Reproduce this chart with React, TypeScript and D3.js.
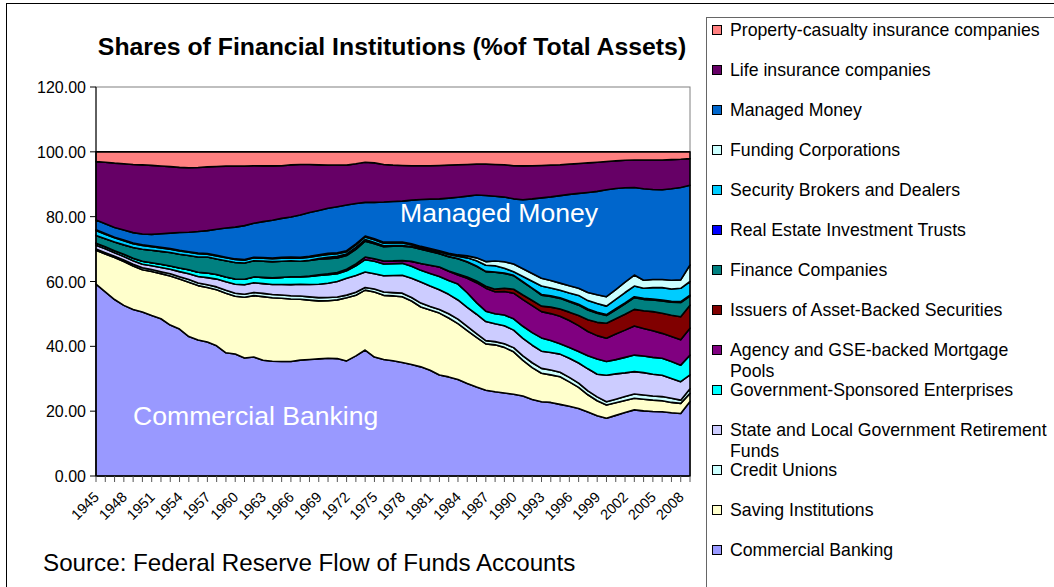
import React from "react";
import * as d3 from "d3";

// years 1945..2009, one point per year
const years = d3.range(1945, 2010);
const yearLabels = ["1945", "1948", "1951", "1954", "1957", "1960", "1963", "1966", "1969", "1972", "1975", "1978", "1981", "1984", "1987", "1990", "1993", "1996", "1999", "2002", "2005", "2008"];
const yTicks = [0, 20, 40, 60, 80, 100, 120];

// shares in % of total assets (bottom of the stack first)
const commercialBanking = [59.0, 56.8, 54.6, 53.0, 51.5, 50.5, 49.6, 48.8, 46.8, 45.5, 43.0, 41.8, 41.0, 40.0, 38.0, 37.6, 36.3, 36.8, 35.5, 35.2, 35.3, 35.2, 35.6, 35.9, 36.0, 36.3, 36.4, 35.5, 37.2, 38.9, 36.5, 35.7, 35.5, 35.0, 34.6, 33.7, 32.6, 31.1, 30.6, 29.8, 28.6, 27.6, 26.5, 26.0, 25.7, 25.2, 24.6, 23.6, 22.9, 22.7, 22.1, 21.5, 20.8, 19.7, 18.6, 17.8, 18.7, 19.6, 20.4, 20.1, 19.9, 19.8, 19.5, 19.3, 23.0];
const savingInstitutions = [10.4, 11.7, 13.0, 13.6, 13.5, 13.0, 13.6, 14.0, 15.2, 15.5, 16.8, 16.7, 16.7, 17.2, 18.4, 17.8, 18.7, 19.0, 19.5, 19.5, 19.5, 19.2, 18.7, 18.3, 17.8, 17.7, 18.2, 19.5, 18.8, 18.5, 20.0, 19.7, 20.0, 20.3, 19.7, 18.5, 18.6, 19.1, 18.2, 17.2, 16.4, 15.4, 14.3, 14.5, 14.1, 13.1, 10.9, 9.8, 8.8, 8.5, 8.5, 7.5, 6.5, 5.3, 4.6, 4.1, 3.9, 3.7, 3.6, 3.6, 3.5, 3.4, 3.2, 3.1, 2.5];
const creditUnions = [0.4, 0.4, 0.4, 0.5, 0.5, 0.6, 0.6, 0.6, 0.7, 0.7, 0.8, 0.8, 0.8, 0.9, 0.9, 0.9, 0.9, 1.0, 1.0, 1.0, 1.0, 1.0, 1.0, 1.0, 1.0, 1.0, 0.9, 0.8, 0.9, 0.8, 0.9, 1.0, 1.0, 1.1, 1.1, 1.2, 1.1, 1.1, 1.3, 1.4, 1.3, 1.2, 1.0, 1.0, 1.1, 1.3, 1.4, 1.5, 1.5, 1.5, 1.4, 1.4, 1.3, 1.2, 1.2, 1.0, 1.1, 1.2, 1.3, 1.3, 1.3, 1.3, 1.3, 1.0, 1.4];
const stateLocalRetirement = [1.2, 1.2, 1.1, 1.1, 1.1, 1.1, 1.2, 1.3, 1.4, 1.6, 1.8, 2.0, 2.2, 2.4, 2.6, 2.8, 2.9, 3.0, 3.0, 3.1, 3.2, 3.4, 3.6, 3.8, 4.1, 4.4, 4.8, 5.2, 5.2, 4.8, 4.7, 5.0, 5.3, 5.5, 6.0, 6.5, 6.3, 6.1, 6.0, 5.9, 5.9, 6.0, 5.9, 5.5, 5.6, 5.4, 5.4, 5.4, 5.3, 5.4, 5.6, 5.9, 6.2, 6.8, 7.0, 8.2, 7.8, 7.3, 6.9, 6.9, 6.7, 6.6, 6.1, 5.7, 4.3];
const gse = [0.6, 0.6, 0.6, 0.7, 0.8, 0.9, 0.9, 1.0, 1.0, 1.1, 1.2, 1.3, 1.4, 1.4, 1.5, 1.6, 1.7, 1.8, 1.9, 2.0, 2.2, 2.4, 2.3, 2.5, 2.7, 2.6, 2.4, 2.3, 3.0, 3.8, 3.8, 3.6, 3.6, 3.7, 3.7, 3.6, 3.9, 4.1, 4.3, 4.9, 4.5, 3.6, 3.2, 3.1, 3.3, 3.5, 3.7, 3.9, 4.1, 3.7, 3.2, 3.3, 3.5, 4.0, 4.7, 4.2, 4.4, 4.8, 5.1, 5.1, 5.2, 5.2, 5.2, 5.1, 6.1];
const mortgagePools = [0, 0, 0, 0, 0, 0, 0, 0, 0, 0, 0, 0, 0, 0, 0, 0, 0, 0, 0, 0, 0, 0, 0, 0.1, 0.2, 0.3, 0.4, 0.5, 0.6, 0.8, 0.8, 0.9, 0.9, 0.9, 1.5, 2.1, 2.5, 2.9, 2.8, 2.8, 4.5, 6.2, 7.1, 6.8, 7.3, 7.9, 8.2, 8.3, 8.1, 8.3, 8.5, 8.3, 8.0, 7.5, 7.2, 7.2, 7.9, 8.4, 9.0, 8.5, 8.2, 7.7, 7.7, 7.8, 8.3];
const assetBacked = [0, 0, 0, 0, 0, 0, 0, 0, 0, 0, 0, 0, 0, 0, 0, 0, 0, 0, 0, 0, 0, 0, 0, 0, 0, 0, 0, 0, 0, 0, 0, 0, 0, 0, 0, 0, 0, 0, 0.1, 0.3, 0.4, 0.5, 0.6, 0.8, 1.0, 1.2, 1.4, 1.6, 1.7, 2.0, 2.2, 2.6, 3.1, 3.6, 4.1, 4.6, 4.7, 4.9, 5.1, 5.5, 5.9, 6.2, 6.6, 7.1, 7.1];
const financeCompanies = [2.4, 2.5, 2.7, 2.9, 3.3, 3.7, 3.9, 4.0, 4.2, 4.3, 4.4, 4.7, 4.9, 4.8, 5.0, 5.1, 5.0, 5.0, 5.0, 5.0, 5.0, 4.9, 4.8, 4.8, 4.8, 4.7, 4.5, 4.2, 4.5, 4.9, 4.6, 4.4, 4.5, 4.4, 4.5, 4.4, 4.3, 4.1, 4.4, 4.7, 4.6, 4.6, 4.5, 5.2, 4.6, 4.2, 4.0, 3.7, 3.4, 3.3, 3.3, 3.2, 3.2, 3.0, 2.8, 2.4, 2.8, 3.2, 3.6, 3.5, 3.6, 3.8, 4.0, 4.4, 2.8];
const reits = [0, 0, 0, 0, 0, 0, 0, 0, 0, 0, 0, 0, 0, 0, 0, 0, 0, 0, 0, 0, 0, 0, 0, 0.1, 0.2, 0.4, 0.5, 0.5, 0.6, 0.5, 0.4, 0.3, 0.2, 0.2, 0.1, 0.1, 0.1, 0.1, 0.1, 0.1, 0.1, 0.1, 0.1, 0.1, 0.1, 0.1, 0.1, 0.1, 0.2, 0.2, 0.2, 0.2, 0.3, 0.3, 0.3, 0.3, 0.3, 0.3, 0.3, 0.3, 0.3, 0.3, 0.3, 0.3, 0.3];
const brokersDealers = [1.5, 1.4, 1.3, 1.3, 1.2, 1.2, 1.1, 1.1, 1.0, 1.0, 1.0, 1.0, 0.9, 0.9, 0.9, 0.9, 0.9, 0.9, 0.9, 0.9, 0.9, 0.9, 0.9, 0.9, 0.9, 0.9, 0.8, 0.7, 0.8, 0.8, 0.8, 0.8, 0.8, 0.8, 0.6, 0.5, 0.5, 0.5, 0.6, 0.7, 1.2, 1.6, 1.9, 1.9, 1.5, 1.1, 1.6, 2.1, 2.6, 2.4, 2.3, 2.5, 2.7, 2.6, 2.7, 2.6, 2.9, 3.2, 3.3, 3.1, 3.5, 3.8, 3.8, 4.1, 4.2];
const fundingCorps = [0.2, 0.2, 0.2, 0.2, 0.2, 0.2, 0.2, 0.2, 0.2, 0.2, 0.2, 0.2, 0.2, 0.2, 0.2, 0.2, 0.2, 0.2, 0.2, 0.2, 0.3, 0.3, 0.3, 0.3, 0.3, 0.3, 0.3, 0.3, 0.3, 0.3, 0.3, 0.3, 0.3, 0.3, 0.3, 0.3, 0.3, 0.3, 0.4, 0.4, 0.6, 0.9, 1.1, 1.5, 2.0, 2.4, 2.4, 2.4, 2.4, 2.3, 2.2, 2.2, 2.2, 2.5, 2.7, 2.9, 3.0, 3.2, 3.4, 2.5, 2.5, 2.5, 2.7, 2.6, 5.1];
const managedMoney = [3.0, 3.0, 3.0, 3.1, 3.2, 3.3, 3.6, 4.2, 4.8, 5.5, 6.0, 6.6, 7.0, 8.0, 9.0, 9.8, 10.4, 10.5, 11.0, 11.6, 12.0, 12.3, 13.0, 13.5, 13.6, 13.9, 14.3, 14.1, 12.5, 10.4, 11.2, 12.3, 12.5, 12.6, 13.5, 14.5, 15.2, 16.0, 17.0, 17.8, 18.5, 19.5, 20.4, 20.0, 20.0, 20.1, 21.2, 23.0, 24.8, 25.8, 27.0, 28.2, 29.2, 30.8, 31.9, 33.0, 31.2, 29.1, 27.0, 28.2, 27.8, 27.7, 28.2, 28.5, 24.6];
const lifeInsurance = [18.0, 19.0, 19.9, 20.6, 21.1, 21.3, 21.3, 21.0, 20.6, 20.2, 19.9, 19.7, 19.5, 19.3, 19.1, 18.8, 18.3, 17.8, 17.1, 16.7, 16.2, 16.0, 15.5, 14.8, 14.0, 13.3, 12.9, 12.3, 12.3, 12.4, 12.1, 11.5, 11.2, 11.0, 10.7, 10.4, 10.3, 10.3, 10.2, 10.0, 9.8, 9.6, 9.7, 9.8, 10.0, 10.2, 10.4, 10.2, 10.0, 9.8, 9.5, 9.3, 9.2, 9.1, 9.0, 8.7, 8.5, 8.5, 8.5, 8.9, 9.1, 9.2, 9.0, 8.7, 8.2];
const propertyCasualty = [3.0, 3.2, 3.5, 3.7, 3.9, 4.0, 4.2, 4.4, 4.6, 4.8, 4.9, 4.8, 4.6, 4.5, 4.4, 4.4, 4.4, 4.3, 4.3, 4.3, 4.3, 4.0, 3.9, 3.9, 4.0, 4.1, 4.1, 4.1, 3.7, 3.2, 3.4, 3.9, 4.1, 4.2, 4.3, 4.3, 4.3, 4.2, 4.1, 4.0, 3.9, 3.8, 3.8, 3.9, 4.0, 4.3, 4.3, 4.3, 4.2, 4.1, 4.0, 3.8, 3.6, 3.4, 3.2, 3.0, 2.8, 2.6, 2.5, 2.5, 2.5, 2.5, 2.4, 2.3, 2.1];

const series = [
  { key: "cb", name: "Commercial Banking", color: "#9999FF", values: commercialBanking },
  { key: "sav", name: "Saving Institutions", color: "#FFFFCC", values: savingInstitutions },
  { key: "cu", name: "Credit Unions", color: "#CCFFFF", values: creditUnions },
  { key: "sl", name: "State and Local Government Retirement|Funds", color: "#CCCCFF", values: stateLocalRetirement },
  { key: "gse", name: "Government-Sponsored Enterprises", color: "#00FFFF", values: gse },
  { key: "pool", name: "Agency and GSE-backed Mortgage|Pools", color: "#800080", values: mortgagePools },
  { key: "abs", name: "Issuers of Asset-Backed Securities", color: "#800000", values: assetBacked },
  { key: "fin", name: "Finance Companies", color: "#008080", values: financeCompanies },
  { key: "reit", name: "Real Estate Investment Trusts", color: "#0000FF", values: reits },
  { key: "sbd", name: "Security Brokers and Dealers", color: "#00CCFF", values: brokersDealers },
  { key: "fc", name: "Funding Corporations", color: "#CCFFFF", values: fundingCorps },
  { key: "mm", name: "Managed Money", color: "#0066CC", values: managedMoney },
  { key: "life", name: "Life insurance companies", color: "#660066", values: lifeInsurance },
  { key: "pc", name: "Property-casualty insurance companies", color: "#FF8080", values: propertyCasualty },
];

const font = "'Liberation Sans', Arial, sans-serif";

export default function App() {
  const left = 96, right = 690, top = 87, bottom = 476;

  const rows = years.map((yr, i) => {
    const r: any = { year: yr };
    series.forEach((s) => (r[s.key] = s.values[i]));
    return r;
  });
  const layers = d3.stack<any>().keys(series.map((s) => s.key)).offset(d3.stackOffsetExpand)(rows);

  const x = d3.scalePoint<number>().domain(years).range([left, right]);
  const y = d3.scaleLinear().domain([0, 120]).range([bottom, top]);
  const area = d3
    .area<any>()
    .x((d) => x(d.data.year) as number)
    .y0((d) => y(d[0] * 100))
    .y1((d) => y(d[1] * 100));

  const legend = series.slice().reverse();

  return (
    <svg width={1054} height={587} style={{ position: "absolute", left: 0, top: 0, background: "#fff" }} fontFamily={font}>
      <rect x={6.5} y={3.5} width={1200} height={700} fill="#fff" stroke="#000" />

      <text x={392} y={55} textAnchor="middle" fontSize={24.8} fontWeight="bold">
        Shares of Financial Institutions (%of Total Assets)
      </text>

      {/* plot frame */}
      <rect x={left} y={top} width={right - left} height={bottom - top} fill="#fff" stroke="#808080" />

      {layers.map((layer, i) => (
        <path key={series[i].key} d={area(layer) || ""} fill={series[i].color} stroke="#000" strokeWidth={1.6} strokeLinejoin="round" />
      ))}

      <text x={400} y={222} fill="#fff" fontSize={26.6}>Managed Money</text>
      <text x={133} y={425} fill="#fff" fontSize={26.6}>Commercial Banking</text>

      {/* axes */}
      <line x1={left} x2={left} y1={top} y2={bottom} stroke="#000" />
      <line x1={left} x2={right} y1={bottom} y2={bottom} stroke="#000" />
      {yTicks.map((t) => (
        <g key={t}>
          <line x1={left - 6} x2={left} y1={y(t)} y2={y(t)} stroke="#000" />
          <text x={86} y={y(t) + 6} textAnchor="end" fontSize={16}>
            {t.toFixed(2)}
          </text>
        </g>
      ))}
      {years.map((yr) => (
        <line key={yr} x1={x(yr)} x2={x(yr)} y1={bottom} y2={bottom + 6} stroke="#555" />
      ))}
      {yearLabels.map((lab) => {
        const px = x(+lab) as number;
        return (
          <text key={lab} transform={`translate(${px + 4},${bottom + 22}) rotate(-45)`} textAnchor="end" fontSize={14.5}>
            {lab}
          </text>
        );
      })}

      <text x={43} y={571} fontSize={24.2}>Source: Federal Reserve Flow of Funds Accounts</text>

      {/* legend */}
      <rect x={706.5} y={17.5} width={400} height={620} fill="#fff" stroke="#666" />
      {legend.map((s, i) => {
        const cy = 30 + i * 40;
        const lines = s.name.split("|");
        return (
          <g key={s.key}>
            <rect x={712.5} y={cy - 4.5} width={9} height={9} fill={s.color} stroke="#000" />
            {lines.map((ln, j) => (
              <text key={j} x={730} y={cy + 6 + j * 21} fontSize={17.7}>
                {ln}
              </text>
            ))}
          </g>
        );
      })}
    </svg>
  );
}
